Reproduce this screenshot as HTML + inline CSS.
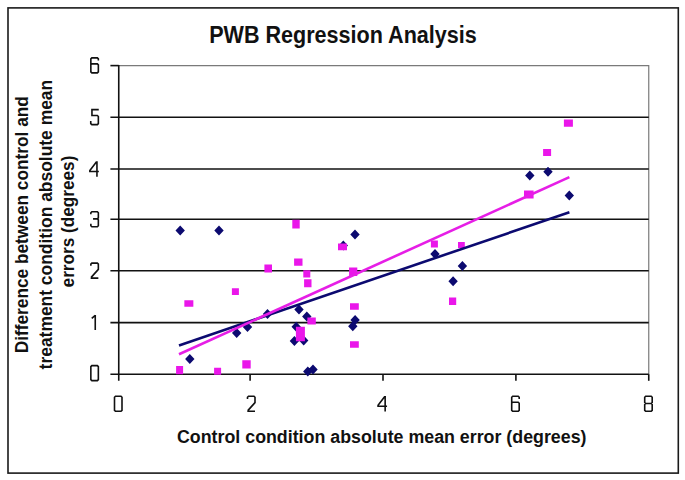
<!DOCTYPE html>
<html><head><meta charset="utf-8"><style>
html,body{margin:0;padding:0;background:#fff;}
body{width:685px;height:480px;overflow:hidden;}
svg{display:block;}
text{font-family:"Liberation Sans",sans-serif;fill:#111;font-weight:bold;}
.ttl{font-size:23px;}
.axt{font-size:18.8px;}
.ayt{font-size:18.3px;}
</style></head><body>
<svg width="685" height="480" viewBox="0 0 685 480">
<rect width="685" height="480" fill="#fff"/>
<rect x="8" y="7.9" width="670.3" height="465.2" fill="none" stroke="#1a1a1a" stroke-width="1.6"/>
<path d="M118.75 65.6H648.75V374.2" fill="none" stroke="#7a7a7a" stroke-width="1.2"/>
<line x1="110.4" y1="322.6" x2="648.75" y2="322.6" stroke="#111" stroke-width="1.6"/>
<line x1="110.4" y1="270.8" x2="648.75" y2="270.8" stroke="#111" stroke-width="1.6"/>
<line x1="110.4" y1="219.3" x2="648.75" y2="219.3" stroke="#111" stroke-width="1.6"/>
<line x1="110.4" y1="169.0" x2="648.75" y2="169.0" stroke="#111" stroke-width="1.6"/>
<line x1="110.4" y1="117.3" x2="648.75" y2="117.3" stroke="#111" stroke-width="1.6"/>
<line x1="110.4" y1="65.6" x2="118.75" y2="65.6" stroke="#111" stroke-width="1.6"/>
<line x1="118.75" y1="65.0" x2="118.75" y2="380.8" stroke="#111" stroke-width="1.6"/>
<line x1="110.4" y1="374.2" x2="648.75" y2="374.2" stroke="#111" stroke-width="1.6"/>
<line x1="250.1" y1="374.2" x2="250.1" y2="380.8" stroke="#111" stroke-width="1.6"/>
<line x1="383.0" y1="374.2" x2="383.0" y2="380.8" stroke="#111" stroke-width="1.6"/>
<line x1="515.9" y1="374.2" x2="515.9" y2="380.8" stroke="#111" stroke-width="1.6"/>
<line x1="648.75" y1="374.2" x2="648.75" y2="380.8" stroke="#111" stroke-width="1.6"/>
<g fill="none" stroke="#111" stroke-width="1.6">
<path transform="translate(90.85,365.60)" d="M1 0H6.5L7.5 1V14L6.5 15H1L0 14V1Z"/>
<path transform="translate(90.85,315.10)" d="M0.9 3.3L4.4 0.2M4.4 0V15"/>
<path transform="translate(90.85,263.10)" d="M0 2.6V1L1 0H6.5L7.5 1V6.3L0.3 14.3M-0.2 15H7.5"/>
<path transform="translate(90.85,211.75)" d="M0 2.6V1L1 0H6.5L7.5 1V6.1L6.5 7.1H2.2M6.5 7.1L7.5 8.1V14L6.5 15H1L0 14V12.1"/>
<path transform="translate(90.85,161.50)" d="M6.1 -0.3V15.3M5.7 0.3L-1 9V10H8"/>
<path transform="translate(90.85,109.60)" d="M7.9 0H1.1V5.9M0.3 5.9H6.5L7.5 6.9V14L6.5 15H1L-0.1 14V11.3"/>
<path transform="translate(90.85,57.90)" d="M7.5 2.6V1L6.5 0H1L0 1V14L1 15H6.5L7.5 14V7L6.5 6H0.8L0 6.8"/>
<path transform="translate(114.50,396.30)" d="M1 0H6.5L7.5 1V14L6.5 15H1L0 14V1Z"/>
<path transform="translate(247.50,396.30)" d="M0 2.6V1L1 0H6.5L7.5 1V6.3L0.3 14.3M-0.2 15H7.5"/>
<path transform="translate(379.05,396.30)" d="M6.1 -0.3V15.3M5.7 0.3L-1 9V10H8"/>
<path transform="translate(511.70,396.30)" d="M7.5 2.6V1L6.5 0H1L0 1V14L1 15H6.5L7.5 14V7L6.5 6H0.8L0 6.8"/>
<path transform="translate(644.70,396.30)" d="M1 0H6.5L7.5 1V6.2L6.5 7.2H1L0 6.2V1ZM1 7.2L0 8.2V14L1 15H6.5L7.5 14V8.2L6.5 7.2"/>
</g>
<text x="209.2" y="42.6" class="ttl" textLength="267.6" lengthAdjust="spacingAndGlyphs">PWB Regression Analysis</text>
<text x="177.0" y="442.8" class="axt" textLength="409.5" lengthAdjust="spacingAndGlyphs">Control condition absolute mean error (degrees)</text>
<text transform="translate(28.1,353.3) rotate(-90)" class="ayt" textLength="257.2" lengthAdjust="spacingAndGlyphs">Difference between control and</text>
<text transform="translate(52.1,369.4) rotate(-90)" class="ayt" textLength="289.6" lengthAdjust="spacingAndGlyphs">treatment condition absolute mean</text>
<text transform="translate(74.0,287.4) rotate(-90)" class="ayt" textLength="131.8" lengthAdjust="spacingAndGlyphs">errors (degrees)</text>
<path d="M180.20 225.50L184.90 230.50L180.20 235.50L175.50 230.50ZM219.00 225.60L223.70 230.60L219.00 235.60L214.30 230.60ZM189.80 354.00L194.50 359.00L189.80 364.00L185.10 359.00ZM236.70 328.00L241.40 333.00L236.70 338.00L232.00 333.00ZM247.50 322.00L252.20 327.00L247.50 332.00L242.80 327.00ZM267.50 309.00L272.20 314.00L267.50 319.00L262.80 314.00ZM299.00 304.50L303.70 309.50L299.00 314.50L294.30 309.50ZM306.80 311.60L311.50 316.60L306.80 321.60L302.10 316.60ZM296.20 321.70L300.90 326.70L296.20 331.70L291.50 326.70ZM294.40 336.00L299.10 341.00L294.40 346.00L289.70 341.00ZM303.70 335.40L308.40 340.40L303.70 345.40L299.00 340.40ZM307.80 366.50L312.50 371.50L307.80 376.50L303.10 371.50ZM313.00 364.50L317.70 369.50L313.00 374.50L308.30 369.50ZM355.10 315.00L359.80 320.00L355.10 325.00L350.40 320.00ZM352.80 321.30L357.50 326.30L352.80 331.30L348.10 326.30ZM355.00 229.60L359.70 234.60L355.00 239.60L350.30 234.60ZM343.30 240.50L348.00 245.50L343.30 250.50L338.60 245.50ZM435.00 249.00L439.70 254.00L435.00 259.00L430.30 254.00ZM453.10 276.30L457.80 281.30L453.10 286.30L448.40 281.30ZM462.40 260.90L467.10 265.90L462.40 270.90L457.70 265.90ZM529.80 170.40L534.50 175.40L529.80 180.40L525.10 175.40ZM548.00 166.80L552.70 171.80L548.00 176.80L543.30 171.80ZM569.30 190.60L574.00 195.60L569.30 200.60L564.60 195.60Z" fill="#0c0a70"/>
<path d="M176.10 366.00h7.0v8.2h-7.0ZM184.35 300.15h9.0v6.6h-9.0ZM214.10 367.85h7.0v6.8h-7.0ZM242.30 360.20h8.4v8.4h-8.4ZM231.90 288.20h7.0v6.8h-7.0ZM264.40 264.60h7.6v8.0h-7.6ZM292.30 219.70h7.4v8.8h-7.4ZM294.10 258.50h8.4v7.2h-8.4ZM303.30 270.20h7.0v7.2h-7.0ZM304.10 279.20h7.4v8.0h-7.4ZM307.40 317.50h8.4v7.0h-8.4ZM295.90 326.70h9.0v14.6h-9.0ZM350.00 303.20h8.8v6.6h-8.8ZM350.00 341.20h8.8v6.6h-8.8ZM338.00 243.50h9.0v6.8h-9.0ZM349.10 267.50h8.2v8.6h-8.2ZM430.90 240.50h7.0v7.0h-7.0ZM458.00 242.00h6.8v6.0h-6.8ZM449.00 297.50h7.2v7.6h-7.2ZM524.00 190.60h9.6v8.0h-9.6ZM543.10 148.90h8.0v7.2h-8.0ZM563.90 119.60h9.0v7.2h-9.0Z" fill="#ea16ea"/>
<line x1="179" y1="345.4" x2="569.4" y2="212.25" stroke="#0c0a70" stroke-width="2.6"/>
<line x1="179" y1="354.3" x2="569.4" y2="177.1" stroke="#e61ee6" stroke-width="2.6"/>
</svg>
</body></html>
